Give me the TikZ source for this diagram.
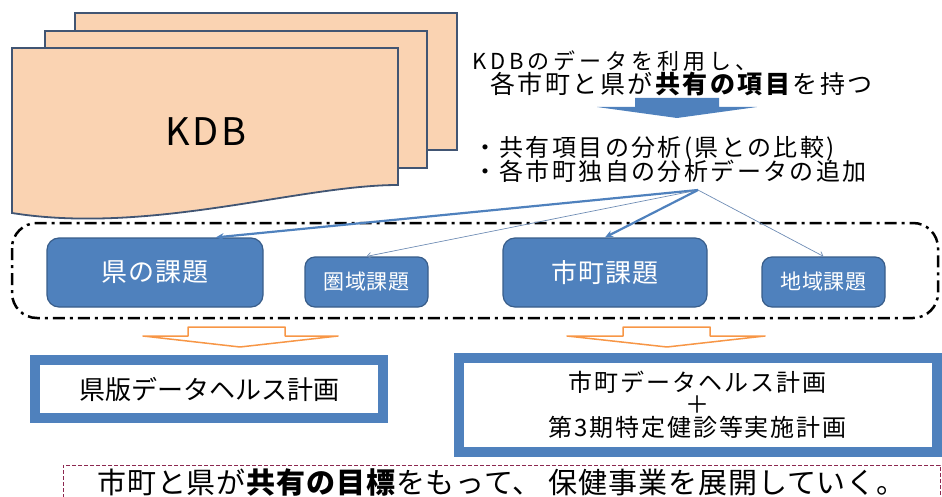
\documentclass[tikz,border=0pt]{standalone}
\usepackage{fontspec}
\setmainfont{Noto Sans CJK JP}
\usetikzlibrary{arrows.meta}
\definecolor{docfill}{RGB}{250,211,178}
\definecolor{docline}{RGB}{65,85,115}
\definecolor{boxblue}{RGB}{79,129,189}
\definecolor{boxline}{RGB}{56,93,138}
\definecolor{thinblue}{RGB}{110,140,180}
\definecolor{hollowline}{RGB}{247,150,70}
\definecolor{goalline}{RGB}{140,40,80}
\newcommand\jp[2]{\fontsize{#1}{#1}\selectfont\addfontfeature{LetterSpace=#2}}

\begin{document}
\begin{tikzpicture}[x=1pt, y=-1pt,
  every node/.style = {align=center, inner sep=0pt},
  doc/.style = {draw=docline, line width=1.8pt, fill=docfill},
  issue/.style = {shape=rectangle, rounded corners=12pt,
    draw=boxline, line width=1.2pt, fill=boxblue, text=white},
  plan/.style = {shape=rectangle, draw=boxblue, line width=10pt, fill=white},
  flow/.style = {draw=boxblue, line width=2.2pt, -{Stealth[length=8pt,width=7pt]}},
  weak/.style = {draw=thinblue, line width=0.7pt, -{Straight Barb[length=4pt,width=6pt]}},
  hollow/.style = {draw=hollowline, line width=1.5pt, fill=white, line join=round},
  goal/.style = {shape=rectangle, draw=goalline, line width=0.8pt,
    dash pattern=on 4pt off 2pt}]
  \useasboundingbox (0,0) rectangle (942,497);
  \draw[doc] (75,13) rectangle (457,150);
  \draw[doc] (45,31) rectangle (427,168);
  \draw[doc] (12,48) -- (398,48) -- (398,185)
    .. controls (300,185) and (150,235) .. (12,213) -- cycle;
  \node (kdb) at (206,132) {\jp{38}{8}KDB};
  \node[anchor=west] (use) at (472,61) {\jp{22}{18}KDBのデータを利用し、};
  \node[anchor=west] (share) at (490,84)
    {\jp{25}{10}各市町と県が\textbf{共有の項目}を持つ};
  \fill[boxblue] (635,98) -- (719,98) -- (719,107) -- (757,107)
    -- (677,118) -- (597,107) -- (635,107) -- cycle;
  \node[anchor=west] (point1) at (473,149) {\jp{24}{10}・共有項目の分析(県との比較)};
  \node[anchor=west] (point2) at (473,171) {\jp{24}{10}・各市町独自の分析データの追加};
  \coordinate (fork) at (698,190);
  \draw[line width=2.5pt, dash pattern=on 12pt off 5pt on 3pt off 5pt,
    rounded corners=25pt] (12,223) rectangle (938,318);
  \node[issue, minimum width=216pt, minimum height=69pt] (ken) at (155,272.5)
    {\jp{26}{5}県の課題};
  \node[issue, rounded corners=10pt, minimum width=123pt, minimum height=50pt]
    (keniki) at (366.5,282) {\jp{21}{3}圏域課題};
  \node[issue, minimum width=204pt, minimum height=69pt] (shicho) at (605,272.5)
    {\jp{26}{5}市町課題};
  \node[issue, rounded corners=10pt, minimum width=123pt, minimum height=50pt]
    (chiiki) at (823.5,282) {\jp{21}{3}地域課題};
  \draw[flow] (fork) -- (ken.30);
  \draw[weak] (fork) -- (keniki.north);
  \draw[flow] (fork) -- (shicho.north);
  \draw[weak] (fork) -- (chiiki.north);
  \draw[hollow] (188,327) -- (285,327) -- (285,336) -- (338,336)
    -- (240,347) -- (143,336) -- (188,336) -- cycle;
  \draw[hollow] (623,327) -- (710,327) -- (710,336) -- (765,336)
    -- (667,347) -- (567,336) -- (623,336) -- cycle;
  \node[plan, minimum width=348pt, minimum height=58pt] (kenplan) at (209,389)
    {\fontsize{26}{30}\selectfont 県版データヘルス計画};
  \node[plan, minimum width=478pt, minimum height=94pt,
    font={\fontsize{24}{22.5}\selectfont\addfontfeature{LetterSpace=8}}]
    (shichoplan) at (697.5,404.5) {市町データヘルス計画\\＋\\第3期特定健診等実施計画};
  \node[goal, minimum width=877pt, minimum height=35pt] (aim) at (501.5,482.5)
    {\jp{29}{3}市町と県が\textbf{共有の目標}をもって、\ 保健事業を展開していく。};
\end{tikzpicture}
\end{document}
